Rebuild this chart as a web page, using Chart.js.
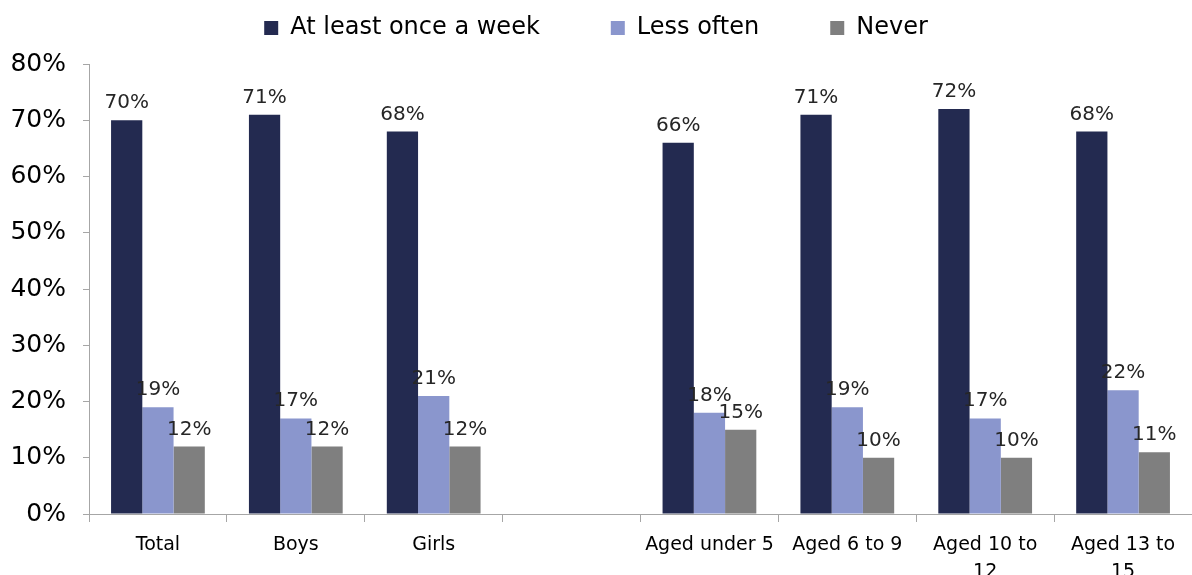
<!DOCTYPE html>
<html>
<head>
<meta charset="utf-8">
<script src="https://cdn.jsdelivr.net/npm/chart.js@4"></script>
<style>
  html, body { margin: 0; padding: 0; background: #fff; }
  canvas { display: block; }
</style>
</head>
<body>
<canvas id="chart1" width="1192" height="575"></canvas>
<script>
const categories = ['Total', 'Boys', 'Girls', '', 'Aged under 5', 'Aged 6 to 9', ['Aged 10 to', '12'], ['Aged 13 to', '15']];
const weekly = [70, 71, 68, null, 66, 71, 72, 68];
const lessOften = [19, 17, 21, null, 18, 19, 17, 22];
const never = [12, 12, 12, null, 15, 10, 10, 11];
const yTicks = [0, 10, 20, 30, 40, 50, 60, 70, 80];

const font = 'DejaVu Sans';

// draws the % value above every bar
const barLabels = {
  id: 'barLabels',
  afterDatasetsDraw(chart) {
    const ctx = chart.ctx;
    ctx.save();
    ctx.font = '20px "' + font + '"';
    ctx.fillStyle = '#262626';
    ctx.textAlign = 'center';
    ctx.textBaseline = 'alphabetic';
    chart.data.datasets.forEach((ds, i) => {
      chart.getDatasetMeta(i).data.forEach((bar, j) => {
        const v = ds.data[j];
        if (v == null) return;
        ctx.fillText(v + '%', bar.x, bar.y - 12);
      });
    });
    ctx.restore();
  }
};

const config1 = {
  type: 'bar',
  data: {
    labels: categories,
    datasets: [
      { label: 'At least once a week', data: weekly, backgroundColor: '#232A50' },
      { label: 'Less often', data: lessOften, backgroundColor: '#8A96CD' },
      { label: 'Never', data: never, backgroundColor: '#7F7F7F' }
    ]
  },
  options: {
    responsive: false,
    animation: false,
    categoryPercentage: 0.68,
    barPercentage: 1,
    layout: { padding: { top: -55, left: 0, right: 0, bottom: 0 } },
    plugins: {
      legend: {
        position: 'top',
        labels: {
          boxWidth: 14,
          boxHeight: 14,
          padding: 71,
          color: '#000',
          font: { family: font, size: 24 }
        }
      },
      // empty title used only as a spacer under the legend
      title: {
        display: true,
        text: '',
        weight: 500,
        padding: 0,
        font: { size: 14, lineHeight: 1 }
      },
      tooltip: { enabled: false }
    },
    scales: {
      x: {
        border: { color: '#A6A6A6' },
        grid: { drawOnChartArea: false, color: '#A6A6A6', tickLength: 8 },
        ticks: {
          color: '#000',
          font: { family: font, size: 19, lineHeight: 1.4 },
          padding: 10,
          autoSkip: false,
          maxRotation: 0
        },
        afterFit(scale) { scale.height = 61; }
      },
      y: {
        min: 0,
        max: 80,
        border: { color: '#A6A6A6' },
        grid: { drawOnChartArea: false, color: '#A6A6A6', tickLength: 6 },
        afterBuildTicks(scale) { scale.ticks = yTicks.map(v => ({ value: v })); },
        ticks: {
          color: '#000',
          font: { family: font, size: 25 },
          padding: 17,
          callback: (v) => v + '%'
        },
        afterFit(scale) { scale.width = 89; }
      }
    }
  },
  plugins: [barLabels]
};

const chart1 = new Chart(document.getElementById('chart1'), config1);
</script>
</body>
</html>
